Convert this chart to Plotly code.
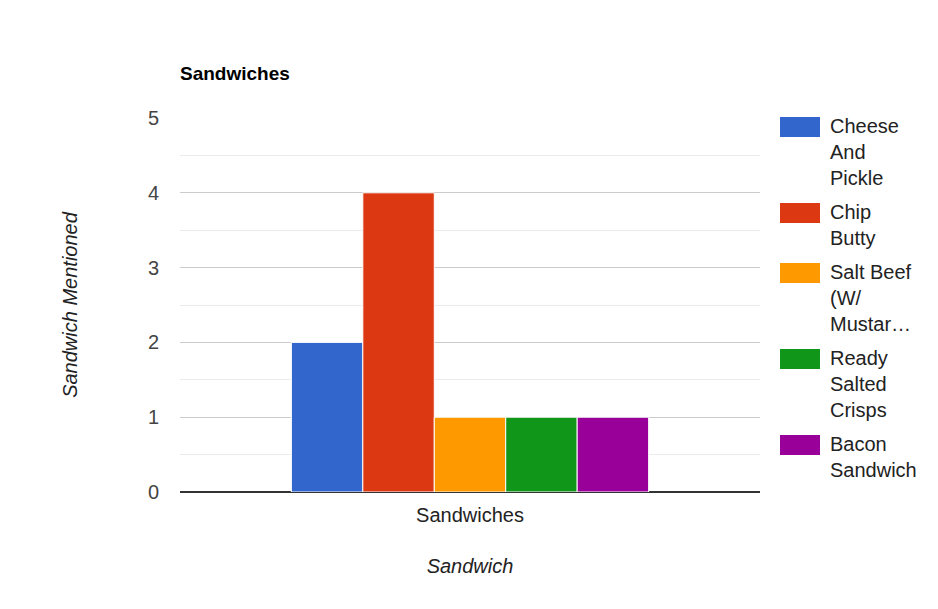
import plotly.graph_objects as go

categories = ["Sandwiches"]
series_names = ["Cheese<br>And<br>Pickle", "Chip<br>Butty", "Salt Beef<br>(W/<br>Mustar…",
                "Ready<br>Salted<br>Crisps", "Bacon<br>Sandwich"]
series_values = [2, 4, 1, 1, 1]
colors = ["#3366cc", "#dc3912", "#ff9900", "#109618", "#990099"]
y_ticks = [0, 1, 2, 3, 4, 5]

W, H = 938, 609
ML, MR, MT, MB = 172, 186, 110, 125
PW, PH = W - ML - MR, H - MT - MB

fig = go.Figure()
for name, val, col in zip(series_names, series_values, colors):
    fig.add_trace(go.Bar(x=categories, y=[val], name=name, showlegend=False,
                         marker=dict(color=col, line=dict(color="white", width=1))))

# custom legend (Google-Charts style swatches) built from the series lists
def px_x(x):
    return (x - ML) / PW

def px_y(y):
    return 1 - (y - MT) / PH

line_h, gap = 26, 8
top = 109
shapes, annotations = [], []
for name, col in zip(series_names, colors):
    nlines = name.count("<br>") + 1
    shapes.append(dict(type="rect", xref="paper", yref="paper",
                       x0=px_x(772), x1=px_x(812), y0=px_y(top), y1=px_y(top + 20),
                       fillcolor=col, line=dict(width=0)))
    annotations.append(dict(xref="paper", yref="paper", x=px_x(820), y=px_y(top - 4),
                            xanchor="left", yanchor="top", align="left", showarrow=False,
                            text=name, font=dict(size=20, color="#222")))
    top += nlines * line_h + gap

font_family = "Arial, Liberation Sans, sans-serif"
fig.update_layout(
    width=W, height=H,
    margin=dict(l=ML, r=MR, t=MT, b=MB),
    paper_bgcolor="white", plot_bgcolor="white",
    barmode="group", bargap=0.384, bargroupgap=0.0,
    font=dict(family=font_family, size=20, color="#444"),
    title=dict(text="<b>Sandwiches</b>", x=ML/W, xanchor="left", y=1-65/H, yanchor="middle",
               font=dict(size=19, color="#000")),
    showlegend=False,
    shapes=shapes, annotations=annotations,
    xaxis=dict(showgrid=False, showline=False, ticks="", automargin=False,
               tickfont=dict(size=20, color="#222"), ticklabelstandoff=9,
               title=dict(text="Sandwich", standoff=33,
                          font=dict(size=20, color="#222", style="italic"))),
    yaxis=dict(range=[0, 5], tickvals=y_ticks, showgrid=True, gridcolor="#cccccc",
               zeroline=True, zerolinecolor="#333333", zerolinewidth=1.5, automargin=False,
               minor=dict(dtick=0.5, showgrid=True, gridcolor="#ebebeb"),
               tickfont=dict(size=20, color="#444"), ticklabelstandoff=20,
               title=dict(text="Sandwich Mentioned", standoff=64,
                          font=dict(size=20, color="#222", style="italic"))),
)
fig.write_html("out.html")
